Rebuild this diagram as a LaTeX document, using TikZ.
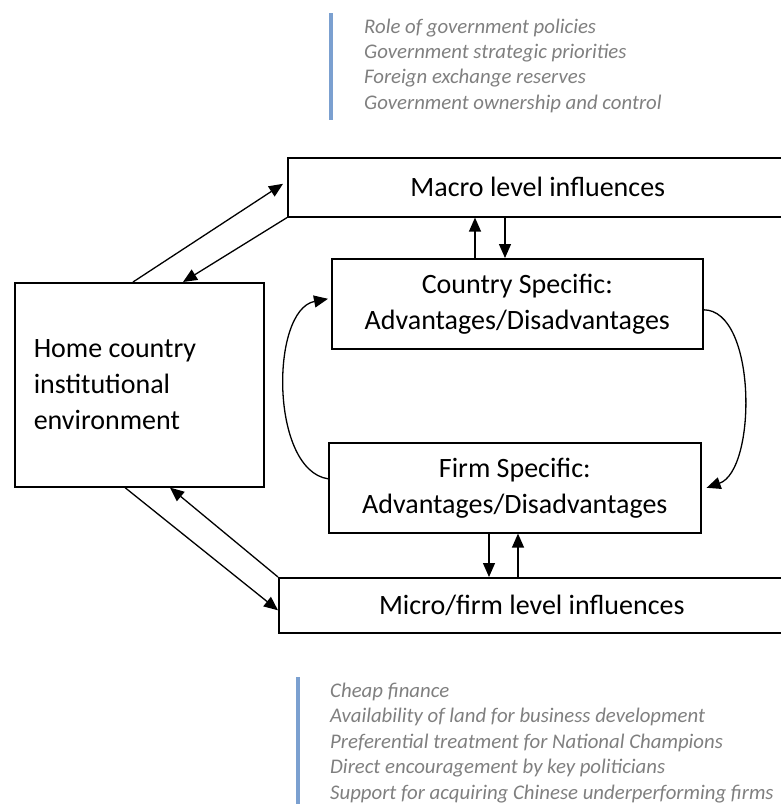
\documentclass[tikz,border=0pt]{standalone}
\usepackage{fontspec}
\setmainfont{Carlito}
\usetikzlibrary{arrows.meta,calc}
\definecolor{quotegray}{HTML}{7F7F7F}
\definecolor{quotebar}{HTML}{7BA0D0}
\begin{document}
\begin{tikzpicture}[x=1pt,y=-1pt,
  box/.style={draw,line width=1.6pt,inner sep=0pt,font=\fontsize{28}{36}\selectfont},
  conn/.style={line width=1.3pt,-{Triangle[length=14pt,width=12pt]}},
  quote/.style={font=\fontsize{20.8}{25}\selectfont\itshape,text=quotegray,anchor=base west,inner sep=0pt},
  bar/.style={draw=quotebar,line width=4pt}]
\useasboundingbox (0,0) rectangle (781,804);

% quotes
\draw[bar] (331,13) -- (331,120);
\node[quote] (q1) at (364,33) {Role of government policies};
\node[quote] (q2) at (364,58.3) {Government strategic priorities};
\node[quote] (q3) at (364,83.6) {Foreign exchange reserves};
\node[quote] (q4) at (364,109) {Government ownership and control};

\draw[bar] (298,677) -- (298,804);
\node[quote] (b1) at (330,697) {Cheap finance};
\node[quote] (b2) at (330,722.5) {Availability of land for business development};
\node[quote] (b3) at (330,748) {Preferential treatment for National Champions};
\node[quote] (b4) at (330,773.5) {Direct encouragement by key politicians};
\node[quote] (b5) at (330,799) {Support for acquiring Chinese underperforming firms};

% boxes
\node[box,minimum width=500pt,minimum height=59pt,anchor=north west] (macro) at (287,157) {Macro level influences};
\node[box,align=center,minimum width=371pt,minimum height=90pt,anchor=north west] (country) at (331,258) {Country Specific:\\Advantages/Disadvantages};
\node[box,align=center,minimum width=372pt,minimum height=90pt,anchor=north west] (firm) at (328,442) {Firm Specific:\\Advantages/Disadvantages};
\node[box,minimum width=506pt,minimum height=55pt,anchor=north west] (micro) at (278,577) {Micro/firm level influences};
\node[box,align=flush left,text width=211pt,inner xsep=19pt,minimum width=249pt,minimum height=204pt,anchor=north west] (home) at (14,282) {Home country\\institutional\\environment};

% connectors
\draw[conn] ($(home.north west)+(119,0)$) -- ($(macro.west)+(-4,-3.5)$);
\draw[conn] (macro.south west) -- ($(home.north west)+(169,0)$);
\draw[conn] ($(country.north west)+(144,0)$) -- ($(macro.south west)+(188,0)$);
\draw[conn] ($(macro.south west)+(218,0)$) -- ($(country.north west)+(174,0)$);
\draw[conn] ($(firm.south west)+(161,0)$) -- ($(micro.north west)+(211,0)$);
\draw[conn] ($(micro.north west)+(240,0)$) -- ($(firm.south west)+(190,0)$);
\draw[conn] ($(home.south west)+(111,0)$) -- ($(micro.west)+(0,5)$);
\draw[conn] (micro.north west) -- ($(home.south west)+(156,0)$);
\draw[conn] ($(firm.west)+(0,-9)$) .. controls (270,470) and (270,310) .. ($(country.west)+(-3,-5)$);
\draw[conn] ($(country.east)+(0,6)$) .. controls (757,310) and (757,470) .. ($(firm.east)+(5,0)$);
\end{tikzpicture}
\end{document}
